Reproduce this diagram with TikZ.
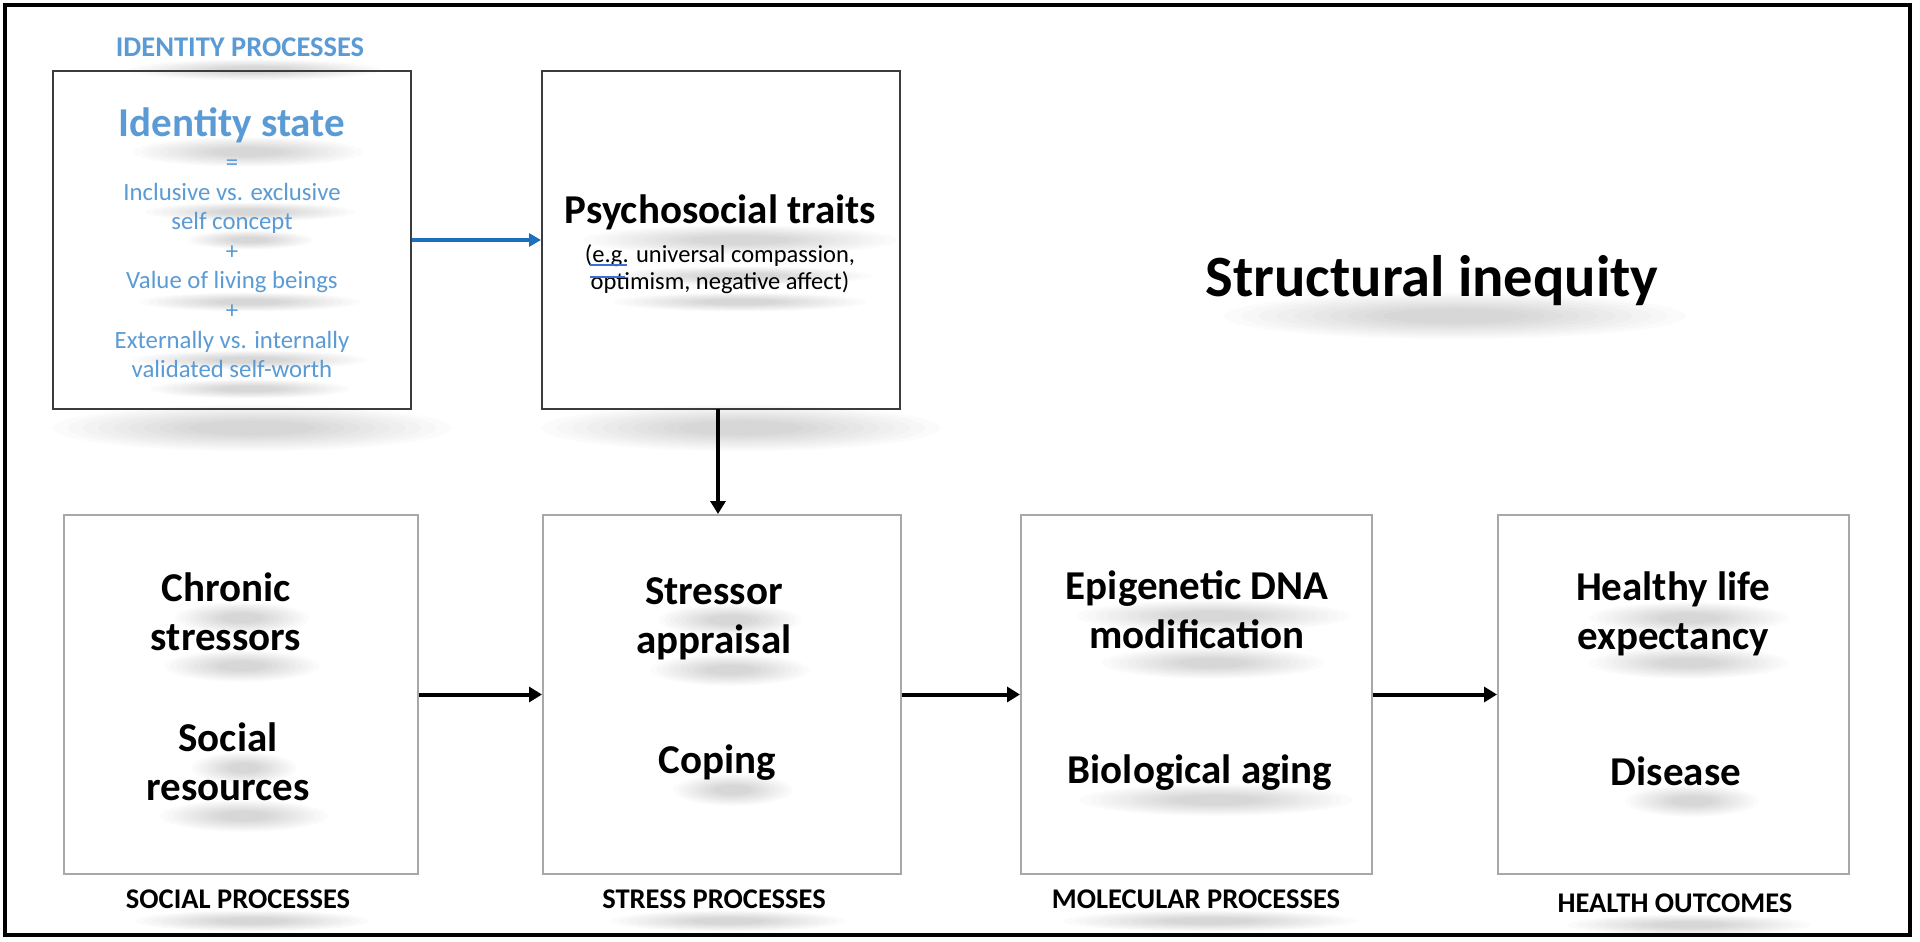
\documentclass[tikz,border=0pt]{standalone}
\usepackage{fontspec}
\setmainfont{Carlito}
\usetikzlibrary{arrows.meta}
\definecolor{idblue}{HTML}{5B9BD5}
\definecolor{arrblue}{HTML}{1E6EBE}
\definecolor{ulblue}{HTML}{3A6FD8}
\definecolor{boxgray}{HTML}{A8A8A8}
\definecolor{topline}{HTML}{3C3C3C}
\tikzset{
  topbox/.style={draw=topline, line width=2pt, inner sep=0pt},
  botbox/.style={draw=boxgray, line width=2pt, inner sep=0pt, minimum height=359pt},
  bigtxt/.style={font=\bfseries\fontsize{41}{49}\selectfont, align=center, anchor=base, inner sep=0pt},
  captxt/.style={font=\bfseries\fontsize{28.5}{34}\selectfont, anchor=base, inner sep=0pt},
  smalltxt/.style={font=\fontsize{24.8}{29.6}\selectfont, align=center, anchor=base, inner sep=0pt},
  blackarrow/.style={line width=4pt, -{Triangle[length=13pt,width=15pt]}},
  bluearrow/.style={draw=arrblue, line width=3.5pt, -{Triangle[length=12pt,width=13pt]}}
}
% soft shadow blob: centre x, centre y, half width, half height
\newcommand{\txtshadow}[4]{%
  \foreach \k in {1,...,10}{%
    \fill[black, fill opacity=0.014] (#1,#2) ellipse ({#3*(0.25+0.08*\k)} and {#4*(0.25+0.08*\k)});}}
\begin{document}
\begin{tikzpicture}[x=1pt,y=-1pt]
\useasboundingbox (0,0) rectangle (1920,942);
\fill[white] (0,0) rectangle (1920,942);

% soft shadows (drawn first, behind everything)
\txtshadow{255}{70}{120}{10}
\txtshadow{252}{428}{190}{22}
\txtshadow{741}{428}{190}{22}
\txtshadow{248}{152}{110}{14}
\txtshadow{250}{212}{100}{9}
\txtshadow{250}{240}{60}{9}
\txtshadow{250}{302}{105}{9}
\txtshadow{250}{360}{112}{9}
\txtshadow{250}{389}{95}{9}
\txtshadow{740}{240}{150}{14}
\txtshadow{740}{276}{125}{9}
\txtshadow{740}{302}{120}{9}
\txtshadow{1455}{316}{220}{22}
\txtshadow{242}{618}{64}{15}
\txtshadow{242}{666}{74}{15}
\txtshadow{244}{768}{50}{15}
\txtshadow{244}{816}{80}{15}
\txtshadow{730}{620}{68}{15}
\txtshadow{730}{670}{76}{15}
\txtshadow{733}{790}{57}{15}
\txtshadow{1213}{616}{130}{15}
\txtshadow{1213}{663}{106}{15}
\txtshadow{1216}{800}{130}{15}
\txtshadow{1689}{618}{95}{15}
\txtshadow{1689}{663}{95}{15}
\txtshadow{1692}{801}{64}{15}
\txtshadow{252}{921}{112}{10}
\txtshadow{728}{921}{112}{10}
\txtshadow{1210}{921}{140}{10}
\txtshadow{1689}{925}{116}{10}

\draw[line width=4pt] (5,5) rectangle (1910,935);

% top boxes
\node[topbox, minimum width=358pt, minimum height=338pt] (idbox) at (232,240) {};
\node[topbox, minimum width=358pt, minimum height=338pt] (psych) at (721,240) {};

% bottom boxes
\node[botbox, minimum width=354pt] (social) at (241,694.5) {};
\node[botbox, minimum width=358pt] (stress) at (722,694.5) {};
\node[botbox, minimum width=351pt] (molec) at (1196.5,694.5) {};
\node[botbox, minimum width=351pt] (health) at (1673.5,694.5) {};

% arrows
\draw[bluearrow] (idbox.east) -- (psych.west);
\coordinate (dtop) at (718,409);
\coordinate (dbot) at (718,514);
\draw[blackarrow] (dtop) -- (dbot);
\draw[blackarrow] (social.east) -- (stress.west);
\draw[blackarrow] (stress.east) -- (molec.west);
\draw[blackarrow] (molec.east) -- (health.west);

% titles (multi-line nodes: base = baseline of last line)
\node[captxt, text=idblue] (idproc) at (240,57) {IDENTITY PROCESSES};
\node[font=\bfseries\fontsize{41}{49}\selectfont, text=idblue, anchor=base, inner sep=0pt] (idstate) at (232,136) {Identity state};
\node[smalltxt, text=idblue] (iddesc) at (232,377.6) {=\\Inclusive vs. exclusive\\self concept\\+\\Value of living beings\\+\\Externally vs. internally\\validated self-worth};

\node[font=\bfseries\fontsize{41}{49}\selectfont, anchor=base, inner sep=0pt] (ptitle) at (720.5,223) {Psychosocial traits};
\node[font=\fontsize{24.5}{27.5}\selectfont, align=center, anchor=base, inner sep=0pt] (pdesc) at (720,289.5) {(e.g. universal compassion,\\optimism, negative affect)};
\draw[ulblue, line width=1.6pt] (590,265) -- (627,265);
\draw[ulblue, line width=1.6pt] (590,277) -- (625,277);

\node[font=\bfseries\fontsize{58.5}{70}\selectfont, anchor=base, inner sep=0pt] (struct) at (1432,296) {Structural inequity};

% bottom texts
\node[bigtxt] (t1a) at (226,650) {Chronic\\stressors};
\node[bigtxt] (t1b) at (228,800) {Social\\resources};
\node[bigtxt] (t2a) at (714,653) {Stressor\\appraisal};
\node[bigtxt] (t2b) at (717,773) {Coping};
\node[bigtxt] (t3a) at (1197,648) {Epigenetic DNA\\modification};
\node[bigtxt] (t3b) at (1200,783) {Biological aging};
\node[bigtxt] (t4a) at (1673,649) {Healthy life\\expectancy};
\node[bigtxt] (t4b) at (1676,785) {Disease};

% captions
\node[captxt] (c1) at (238,908) {SOCIAL PROCESSES};
\node[captxt] (c2) at (714,908) {STRESS PROCESSES};
\node[captxt] (c3) at (1196,908) {MOLECULAR PROCESSES};
\node[captxt] (c4) at (1675,912) {HEALTH OUTCOMES};
\end{tikzpicture}
\end{document}
